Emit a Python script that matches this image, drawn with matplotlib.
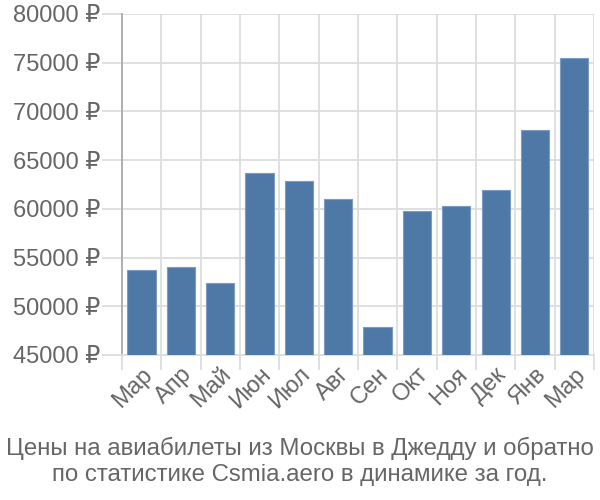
import matplotlib
matplotlib.use("Agg")
import matplotlib.pyplot as plt
import numpy as np

plt.rcParams['font.family'] = ['Liberation Sans', 'DejaVu Sans']

months = ["Мар", "Апр", "Май", "Июн", "Июл", "Авг", "Сен", "Окт", "Ноя", "Дек", "Янв", "Мар"]
prices = [53700, 54000, 52400, 63650, 62850, 60980, 47850, 59780, 60330, 61900, 68070, 75450]
yticks = [45000, 50000, 55000, 60000, 65000, 70000, 75000, 80000]
title = "Цены на авиабилеты из Москвы в Джедду и обратно\nпо статистике Csmia.aero в динамике за год."

fig = plt.figure(figsize=(6, 5), dpi=100)
ax = fig.add_axes([0.2033, 0.29, 0.7867, 0.682])

x = np.arange(len(months))
ax.bar(x, prices, width=0.72, color='#4e79a7', edgecolor='#7a9cc4', linewidth=0.8, zorder=3)
ax.set_xlim(-0.5, len(months) - 0.5)
ax.set_ylim(45000, 80000)

ax.set_yticks(yticks)
ax.set_yticklabels([f"{v} ₽" for v in yticks])
ax.set_xticks(x)
ax.set_xticklabels(months, rotation=45, ha='right', rotation_mode='anchor')
ax.set_xticks(np.arange(-0.5, len(months)), minor=True)

ax.grid(True, axis='y', which='major', color='#dddddd', linewidth=1.3, zorder=0)
ax.grid(True, axis='x', which='minor', color='#dddddd', linewidth=1.3, zorder=0)
ax.tick_params(axis='y', which='major', length=14.5, width=1.3, color='#dddddd',
               labelsize=17, labelcolor='#666666', pad=1)
ax.tick_params(axis='x', which='major', length=0, labelsize=17, labelcolor='#666666', pad=6)
ax.tick_params(axis='x', which='minor', length=11, width=1.3, color='#dddddd')

for s in ['top', 'right']:
    ax.spines[s].set_visible(False)
ax.spines['left'].set_color('#aaaaaa')
ax.spines['left'].set_linewidth(1.3)
ax.spines['bottom'].set_color('#dddddd')
ax.spines['bottom'].set_linewidth(1.3)

fig.text(0.5, 0.077, title, ha='center', va='center', fontsize=17.3, color='#666666',
         linespacing=1.25)

fig.savefig("out.png", dpi=100)
